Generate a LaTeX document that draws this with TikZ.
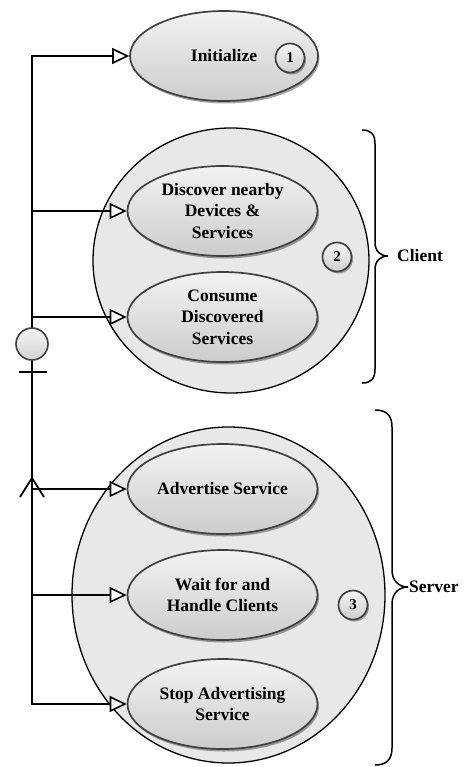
\documentclass[tikz,border=0pt]{standalone}
\usepackage{fontspec}
\setmainfont{Liberation Serif}
\usetikzlibrary{shapes.geometric,arrows.meta,shadows}
\tikzset{
  groupcirc/.style={draw=black, line width=1.3pt, fill=gray!18},
  usecase/.style={ellipse, draw=gray!50!black, line width=1.7pt, top color=gray!10, bottom color=gray!40,
    minimum width=190pt, minimum height=90pt, inner sep=0pt, align=center,
    font=\fontsize{17.5}{21.5}\selectfont\bfseries,
    drop shadow={shadow xshift=1.5pt, shadow yshift=-2.5pt, opacity=.35, fill=black}},
  numcirc/.style={circle, draw=gray!50!black, line width=1.7pt, top color=gray!8, bottom color=gray!38,
    minimum size=29pt, inner sep=0pt, font=\fontsize{15}{15}\selectfont\bfseries,
    drop shadow={shadow xshift=1.5pt, shadow yshift=-2pt, opacity=.35, fill=black}},
  conn/.style={draw=black, line width=1.8pt, -{Triangle[length=17pt, width=16pt, fill=white, line width=1.6pt]}},
  wire/.style={draw=black, line width=1.8pt},
  bracepath/.style={draw=black, line width=1.5pt},
  bracelabel/.style={anchor=west, inner sep=0pt, font=\fontsize{17.5}{20}\selectfont\bfseries}
}
\begin{document}
\begin{tikzpicture}[x=1pt,y=-1pt]
\useasboundingbox (0,0) rectangle (467,767);
% group circles
\path[groupcirc] (231,260.5) ellipse [x radius=138, y radius=132.5];
\path[groupcirc] (228.5,595) ellipse [x radius=156.5, y radius=168];
% junction coordinates
\coordinate (j1) at (32,56);
\coordinate (j2) at (32,211);
\coordinate (j3) at (32,317);
\coordinate (j4) at (32,489);
\coordinate (j5) at (32,595);
\coordinate (j6) at (32,704);
% use cases
\node[usecase, minimum width=188pt] (init) at (224,56) {Initialize};
\node[usecase] (disc) at (222.5,211) {Discover nearby\\Devices \&\\Services};
\node[usecase] (cons) at (222.5,317) {Consume\\Discovered\\Services};
\node[usecase] (adv) at (222.5,489) {Advertise Service};
\node[usecase] (wait) at (222.5,595) {Wait for and\\Handle Clients};
\node[usecase] (stop) at (222.5,704) {Stop Advertising\\Service};
% number markers
\node[numcirc] (n1) at (290,58) {1};
\node[numcirc] (n2) at (337,257) {2};
\node[numcirc] (n3) at (353,605) {3};
% connectors
\path[wire] (j1) -- (j6);
\path[conn, line join=miter] (j2) -- (j1) -- (init.west);
\path[conn] (j2) -- (disc.west);
\path[conn] (j3) -- (cons.west);
\path[conn] (j4) -- (adv.west);
\path[conn] (j5) -- (wait.west);
\path[conn, line join=miter] (j5) -- (j6) -- (stop.west);
% actor symbol
\node[circle, draw=gray!50!black, line width=1.6pt, top color=gray!8, bottom color=gray!35,
  minimum size=32pt, inner sep=0pt] (actor) at (32,344) {};
\coordinate (barL) at (19,372);
\coordinate (barR) at (47,372);
\path[wire] (barL) -- (barR);
\coordinate (cfL) at (20,497);
\coordinate (cfA) at (32,478);
\coordinate (cfR) at (44,497);
\path[wire, line join=miter] (cfL) -- (cfA) -- (cfR);
% braces
\path[bracepath] (362,130) .. controls (371,130) and (375,134) .. (375,144) -- (375,242)
  .. controls (375,251) and (380,256) .. (388,256)
  .. controls (380,256) and (375,261) .. (375,270) -- (375,369)
  .. controls (375,379) and (371,383) .. (362,383);
\path[bracepath] (375,410) .. controls (386,410) and (392,415) .. (392,427) -- (392,570)
  .. controls (392,581) and (399,587) .. (408,587)
  .. controls (399,587) and (392,593) .. (392,604) -- (392,748)
  .. controls (392,760) and (386,765) .. (375,765);
\node[bracelabel] (client) at (397,256) {Client};
\node[bracelabel] (server) at (409,587) {Server};
\end{tikzpicture}
\end{document}
